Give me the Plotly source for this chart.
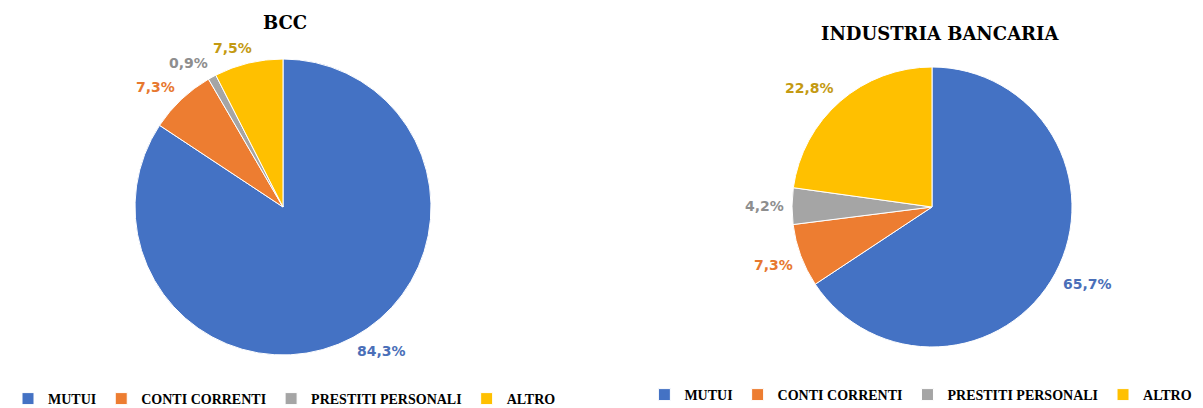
import math
import plotly.graph_objects as go

# Dati
categorie = ["MUTUI", "CONTI CORRENTI", "PRESTITI PERSONALI", "ALTRO"]
bcc = [84.3, 7.3, 0.9, 7.5]
industria = [65.7, 7.3, 4.2, 22.8]

COLORI = ["#4472C4", "#ED7D31", "#A5A5A5", "#FFC000"]
COLORI_TESTO = ["#4A6FB8", "#E7782F", "#8E8E8E", "#C49A12"]
SERIF = "DejaVu Serif, serif"
SERIF_LEG = "Liberation Serif, Times New Roman, serif"
SANS = "DejaVu Sans, Verdana, sans-serif"

W, H = 1203, 408
OFF = 8  # margine del body nella pagina


def dominio(cx, cy, r):
    return dict(x=[(cx - OFF - r) / W, (cx - OFF + r) / W],
                y=[(H - (cy - OFF + r)) / H, (H - (cy - OFF - r)) / H])


def etichette(valori, cx, cy, r):
    """Etichette esterne posizionate sull'angolo medio di ogni fetta."""
    tot = sum(valori)
    acc = 0
    out = []
    for v, col in zip(valori, COLORI_TESTO):
        mid = (acc + v / 2) / tot * 2 * math.pi
        acc += v
        sx, sy = math.sin(mid), -math.cos(mid)
        testo = f"{v:.1f}%".replace(".", ",")
        hw, hh = len(testo) * 5, 7
        px = cx + (r + 8) * sx + hw * max(-1, min(1, 3 * sx))
        py = cy + (r + 8) * sy + hh * max(-1, min(1, 3 * sy))
        out.append(dict(text=f"<b>{testo}</b>", x=px, y=py, xref="x", yref="y",
                        showarrow=False, font=dict(family=SANS, size=14, color=col)))
    return out


fig = go.Figure()

for nome, valori, (cx, cy, r), leg in [("bcc", bcc, (283, 207, 148), "legend"),
                                        ("ind", industria, (932, 207, 140), "legend2")]:
    fig.add_trace(go.Pie(
        name=nome, labels=categorie, values=valori, sort=False,
        direction="clockwise", rotation=0,
        marker=dict(colors=COLORI, line=dict(color="white", width=1)),
        textinfo="none", domain=dominio(cx, cy, r),
        automargin=False, legend=leg, legendgroup=nome, hoverinfo="label+value",
    ))
    for a in etichette(valori, cx, cy, r):
        fig.add_annotation(**a)

fig.add_annotation(text="<b>BCC</b>", x=285, y=22, xref="x", yref="y",
                   showarrow=False, font=dict(family=SERIF, size=18, color="black"))
fig.add_annotation(text="<b>INDUSTRIA BANCARIA</b>", x=940, y=33, xref="x", yref="y",
                   showarrow=False, font=dict(family=SERIF, size=18, color="black"))

LEG = dict(orientation="h", xanchor="left", yanchor="middle", bgcolor="rgba(0,0,0,0)",
           font=dict(family=SERIF_LEG, size=14, color="black", weight="bold"),
           itemwidth=30, traceorder="normal", itemclick=False)

fig.update_layout(
    width=W, height=H,
    margin=dict(l=0, r=0, t=0, b=0),
    paper_bgcolor="white", plot_bgcolor="white",
    separators=",.",
    showlegend=True,
    legend=dict(LEG, x=0.0, y=17 / H),
    legend2=dict(LEG, x=0.529, y=21 / H),
    xaxis=dict(range=[OFF, W + OFF], visible=False, fixedrange=True),
    yaxis=dict(range=[H + OFF, OFF], visible=False, fixedrange=True),
)

fig.write_html("out.html")
